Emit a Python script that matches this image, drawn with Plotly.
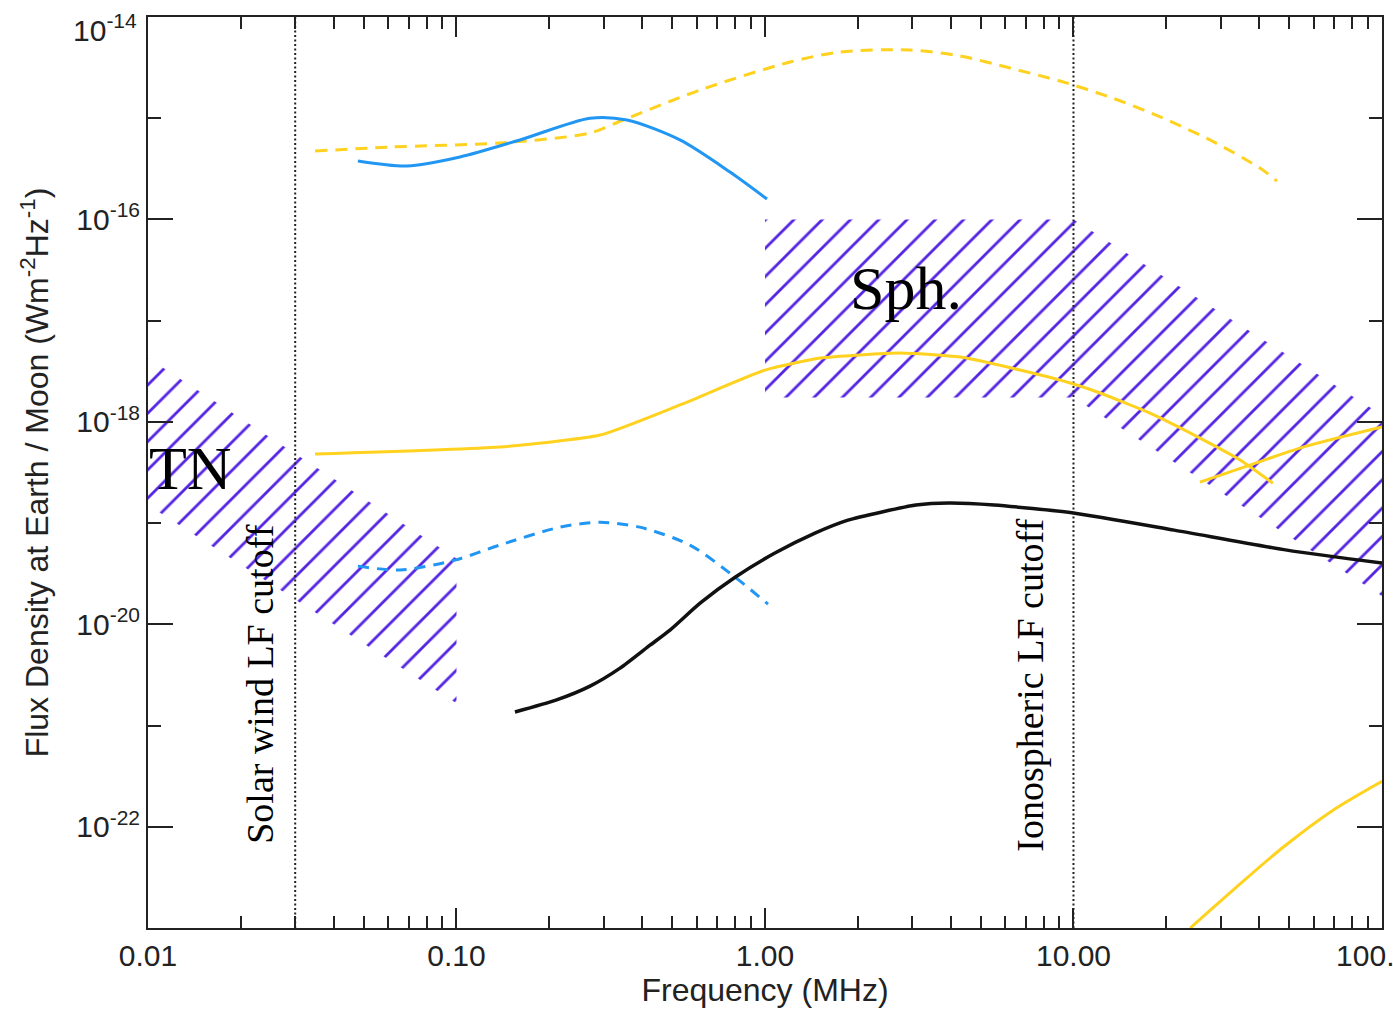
import plotly.graph_objects as go

# ---------------- data ----------------
# upper dashed yellow curve
yd_freq = [0.0348, 0.0609, 0.138, 0.271, 0.347, 0.616, 1.205, 1.75, 2.95, 4.29, 6.23, 9.04, 13.1, 19.1, 27.7, 40.2, 45.7]
yd_flux = [4.74e-16, 5.19e-16, 5.69e-16, 7.14e-16, 9.6e-16, 1.90e-15, 3.59e-15, 4.51e-15, 4.72e-15, 4.12e-15,
           3.13e-15, 2.33e-15, 1.62e-15, 1.03e-15, 6.10e-16, 3.22e-16, 2.39e-16]

# solid blue curve
bs_freq = [0.0479, 0.0691, 0.1026, 0.1606, 0.271, 0.357, 0.530, 0.770, 1.015]
bs_flux = [3.78e-16, 3.37e-16, 4.14e-16, 6.10e-16, 1.00e-15, 9.6e-16, 6.10e-16, 2.94e-16, 1.59e-16]

# middle solid yellow curve
ys_freq = [0.0348, 0.138, 0.292, 0.530, 1.0, 1.51, 2.74, 4.29, 6.71, 10.0, 12.2, 17.7, 25.7, 34.7, 44.3]
ys_flux = [4.81e-19, 5.64e-19, 7.41e-19, 1.47e-18, 3.25e-18, 4.27e-18, 4.79e-18, 4.37e-18, 3.25e-18,
           2.37e-18, 1.93e-18, 1.22e-18, 6.92e-19, 4.20e-19, 2.48e-19]

# short rising yellow line
yr_freq = [25.7, 37.3, 54.2, 100.0]
yr_flux = [2.54e-19, 3.74e-19, 5.51e-19, 8.89e-19]

# dashed blue curve
bd_freq = [0.0479, 0.0656, 0.0989, 0.138, 0.2165, 0.292, 0.393, 0.571, 0.80, 1.023]
bd_flux = [3.76e-20, 3.44e-20, 4.31e-20, 6.07e-20, 9.12e-20, 1.02e-19, 9.12e-20, 6.07e-20, 2.92e-20, 1.58e-20]

# black curve
k_freq = [0.1547, 0.210, 0.271, 0.339, 0.424, 0.492, 0.616, 0.80, 1.077, 1.452, 1.858, 2.395, 3.087, 3.95,
          5.53, 10.0, 21.2, 49.2, 100.0]
k_flux = [1.36e-21, 1.78e-21, 2.45e-21, 3.69e-21, 6.22e-21, 8.77e-21, 1.62e-20, 2.92e-20, 5.06e-20, 7.96e-20,
          1.07e-19, 1.29e-19, 1.51e-19, 1.58e-19, 1.51e-19, 1.26e-19, 8.53e-20, 5.41e-20, 4.03e-20]

# bottom yellow curve
yb_freq = [23.9, 32.9, 47.8, 69.4, 100.0]
yb_flux = [1.0e-23, 2.37e-23, 6.28e-23, 1.46e-22, 2.82e-22]

# hatched regions
tn_freq = [0.01, 0.1, 0.1, 0.01, 0.01]
tn_flux = [4.27e-18, 4.47e-20, 1.66e-21, 1.51e-19, 4.27e-18]
sph_freq = [1.0, 10.0, 100.0, 100.0, 10.0, 1.0, 1.0]
sph_flux = [1e-16, 1e-16, 1.17e-18, 1.91e-20, 1.74e-18, 1.74e-18, 1e-16]

# cutoff lines
cutoff_freq = [0.03, 10.0]
y_limits = [1e-23, 1e-14]

# axis ticks
x_ticks = [0.01, 0.1, 1, 10, 100]
x_ticktext = ["0.01", "0.10", "1.00", "10.00", "100.00"]
y_ticks = [1e-22, 1e-20, 1e-18, 1e-16]
y_ticktext = ["10<sup>-22</sup>", "10<sup>-20</sup>", "10<sup>-18</sup>", "10<sup>-16</sup>"]
y_top_label = "10<sup>-14</sup>"
y_minor = [1e-21, 1e-19, 1e-17, 1e-15]
x_minor = [k * d for d in (0.01, 0.1, 1, 10) for k in range(2, 10)]

# ---------------- styles ----------------
YELLOW = "#FFD21F"
BLUE = "#2196F3"
HATCH = "#5424E2"
AXC = "#222222"

fig = go.Figure()


def hatch(xs, ys):
    fig.add_trace(go.Scatter(
        x=xs, y=ys, mode="lines", fill="toself",
        line=dict(width=0, color="rgba(0,0,0,0)"),
        fillcolor="rgba(0,0,0,0)",
        fillpattern=dict(shape="/", fgcolor=HATCH, bgcolor="rgba(0,0,0,0)",
                         size=20, solidity=0.14, fillmode="replace"),
        hoverinfo="skip", showlegend=False))


hatch(tn_freq, tn_flux)
hatch(sph_freq, sph_flux)

for fc in cutoff_freq:
    fig.add_trace(go.Scatter(x=[fc, fc], y=y_limits, mode="lines",
                             line=dict(color=AXC, width=2, dash="2px,2.5px"),
                             showlegend=False, hoverinfo="skip"))


def curve(xs, ys, color, width=3, dash=None, smoothing=0.8):
    fig.add_trace(go.Scatter(x=xs, y=ys, mode="lines",
                             line=dict(color=color, width=width, dash=dash,
                                       shape="spline", smoothing=smoothing),
                             showlegend=False))


curve(yd_freq, yd_flux, YELLOW, 3, "12px,8px")
curve(bs_freq, bs_flux, BLUE, 3)
curve(ys_freq, ys_flux, YELLOW, 3, None, 0.5)
curve(yr_freq, yr_flux, YELLOW, 3)
curve(bd_freq, bd_flux, BLUE, 3, "11px,8px")
curve(k_freq, k_flux, "#111111", 3.5, None, 0.6)
curve(yb_freq, yb_flux, YELLOW, 3)

serif = "Liberation Serif"
sans = "Liberation Sans"
ann = dict(xref="paper", yref="paper", showarrow=False, xanchor="center", yanchor="middle")
fig.add_annotation(text="TN", x=0.0348, y=0.505,
                   font=dict(family=serif, size=62, color="black"), **ann)
fig.add_annotation(text="Sph.", x=0.614, y=0.702,
                   font=dict(family=serif, size=62, color="black"), **ann)
fig.add_annotation(text="Solar wind LF cutoff", x=0.0908, y=0.267, textangle=-90,
                   font=dict(family=serif, size=38, color="black"), **ann)
fig.add_annotation(text="Ionospheric LF cutoff", x=0.7147, y=0.267, textangle=-90,
                   font=dict(family=serif, size=38, color="black"), **ann)
# top y tick label, nudged down inside the canvas as in the reference
fig.add_annotation(text=y_top_label, xref="paper", yref="paper", x=-0.0075, y=0.988,
                   xanchor="right", yanchor="middle", showarrow=False,
                   font=dict(family=sans, size=30, color=AXC))

common = dict(showline=True, linecolor=AXC, linewidth=2, mirror="allticks",
              ticks="inside", tickwidth=2, tickcolor=AXC, showgrid=False, zeroline=False,
              ticklabeloverflow="allow", automargin=False,
              tickfont=dict(family=sans, size=30, color=AXC))

fig.update_layout(
    width=1393, height=1013,
    margin=dict(l=148, r=11, t=17, b=85, autoexpand=False),
    paper_bgcolor="white", plot_bgcolor="white",
    showlegend=False,
    xaxis=dict(type="log", range=[-2, 2.0001], tickvals=x_ticks, ticktext=x_ticktext, ticklen=20,
               minor=dict(tickvals=x_minor, ticks="inside", ticklen=12, tickwidth=2, tickcolor=AXC, showgrid=False),
               title=dict(text="Frequency (MHz)", font=dict(family=sans, size=32, color=AXC), standoff=6),
               **common),
    yaxis=dict(type="log", range=[-23, -14], tickvals=y_ticks, ticktext=y_ticktext, ticklen=25,
               minor=dict(tickvals=y_minor, ticks="inside", ticklen=13, tickwidth=2, tickcolor=AXC, showgrid=False),
               title=dict(text="Flux Density at Earth / Moon (Wm<sup>-2</sup>Hz<sup>-1</sup>)",
                          font=dict(family=sans, size=32, color=AXC), standoff=18),
               **common),
)

fig.write_html("out.html")
